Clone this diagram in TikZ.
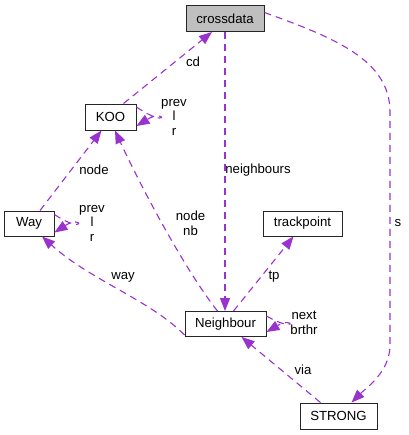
\documentclass[tikz,border=0pt]{standalone}
\usepackage{fontspec}
\setmainfont{Liberation Sans}
\usetikzlibrary{arrows.meta,calc}
\definecolor{edgec}{HTML}{9A32CD}
\definecolor{boxgray}{HTML}{BFBFBF}
\begin{document}
\begin{tikzpicture}[x=1bp,y=-1bp,
  every node/.style={font=\fontsize{13.2bp}{14.5bp}\selectfont},
  cls/.style={draw=black!85,line width=0.9bp,inner sep=0pt,minimum height=25bp},
  rel/.style={color=edgec,line width=1.1bp,dash pattern=on 7bp off 5bp,
    -{Triangle[length=13bp,width=10bp]}},
  lbl/.style={inner sep=0pt,align=center,text=black}]
\useasboundingbox (0,0) rectangle (408,435);
\node[cls,fill=boxgray,minimum width=78bp,minimum height=26bp] (cd) at (225,18.5) {crossdata};
\node[cls,minimum width=51bp,minimum height=26bp] (koo) at (110.5,117) {KOO};
\node[cls,minimum width=50bp] (way) at (29,223.5) {Way};
\node[cls,minimum width=79bp] (tp) at (302.5,223.5) {trackpoint};
\node[cls,minimum width=81bp] (nb) at (225.5,324) {Neighbour};
\node[cls,minimum width=77bp,minimum height=26bp] (st) at (338.5,416) {STRONG};
% KOO -> crossdata
\draw[rel] ([xshift=13bp]koo.north) -- ([xshift=-13bp]cd.south);
\node[lbl] (lcd) at (193,62) {cd};
% KOO self
\draw[rel] ([yshift=10bp]koo.east) .. controls (170,130) and (166,108) .. ([yshift=-9bp]koo.east);
\node[lbl] (lkoo) at (174,117) {prev\\l\\r};
% crossdata -> Neighbour
\draw[rel] (cd.south) -- (cd.south |- nb.north);
\node[lbl] (lnbs) at (258,170) {neighbours};
% crossdata -> STRONG
\draw[rel] ([yshift=6bp]cd.east) .. controls (335,38) and (390,60) .. (390,112) -- (390,345) .. controls (390,372) and (366,388) .. ([xshift=13bp]st.north);
\node[lbl] (ls) at (398,223) {s};
% Way -> KOO
\draw[rel] ([xshift=11bp]way.north) -- ([xshift=-9bp]koo.south);
\node[lbl] (lnode) at (94,170) {node};
% Neighbour -> KOO
\draw[rel] ([xshift=-8bp]nb.north) .. controls (185,270) and (140,185) .. ([xshift=4.5bp]koo.south);
\node[lbl] (lnodenb) at (190.5,223.5) {node\\nb};
% Way self
\draw[rel] ([yshift=9bp]way.east) .. controls (87,236) and (83,214) .. ([yshift=-9bp]way.east);
\node[lbl] (lway) at (92,223) {prev\\l\\r};
% Neighbour -> Way
\draw[rel] ([yshift=-11bp]nb.west) .. controls (150,300) and (90,280) .. ([xshift=13bp]way.south);
\node[lbl] (lwy) at (123,277) {way};
% Neighbour -> trackpoint
\draw[rel] ([xshift=8bp]nb.north) -- ([xshift=-9bp]tp.south);
\node[lbl] (ltp) at (274,277) {tp};
% Neighbour self
\draw[rel] ([yshift=8bp]nb.east) .. controls (298,334) and (294,316) .. ([yshift=-8bp]nb.east);
\node[lbl] (lnb) at (304,323) {next\\brthr};
% STRONG -> Neighbour
\draw[rel] ([xshift=-18bp]st.north) -- ([xshift=16bp]nb.south);
\node[lbl] (lvia) at (303,370) {via};
\end{tikzpicture}
\end{document}
